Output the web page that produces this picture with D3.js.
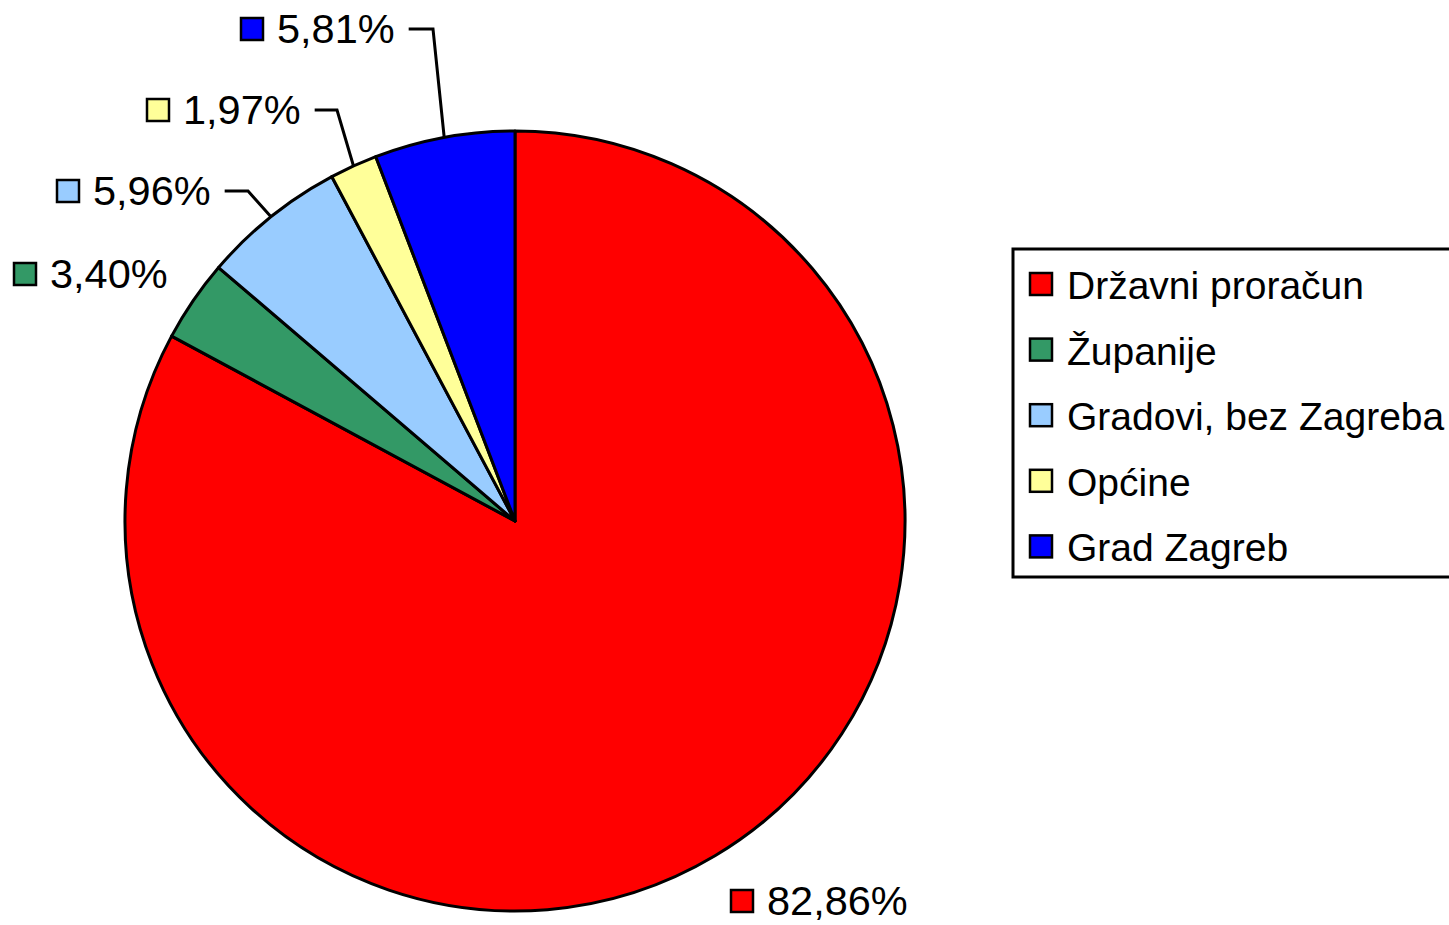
<!doctype html>
<html>
<head>
<meta charset="UTF-8">
<title>Pie</title>
<script src="https://cdn.jsdelivr.net/npm/d3@7"></script>
<style>
  body { margin: 0; background: #fff; }
  text { font-family: "Liberation Sans", Arial, sans-serif; fill: #000; }
</style>
</head>
<body>
<svg id="chart" width="1449" height="925"></svg>
<script>
// data
var categories = ["Državni proračun", "Županije", "Gradovi, bez Zagreba", "Općine", "Grad Zagreb"];
var shares = [82.86, 3.40, 5.96, 1.97, 5.81];
var colors = ["#ff0000", "#339966", "#99ccff", "#ffff99", "#0000ff"];

// label placement (text start x, baseline y, elbow x) - hand placed like the original
var labelPos = [
  {x: 767, y: 915, elbow: null},
  {x: 50,  y: 288, elbow: null},
  {x: 93,  y: 205, elbow: 248},
  {x: 183, y: 124, elbow: 337},
  {x: 277, y: 43,  elbow: 433}
];

var svg = d3.select("#chart"),
    cx = 515, cy = 521, r = 390;

var pie = d3.pie().sort(null).value(function(d) { return d; });
var arc = d3.arc().innerRadius(0).outerRadius(r);
var arcs = pie(shares);

var g = svg.append("g").attr("transform", "translate(" + cx + "," + cy + ")");

g.selectAll("path.slice")
  .data(arcs)
  .enter().append("path")
  .attr("class", "slice")
  .attr("d", arc)
  .attr("fill", function(d, i) { return colors[i]; })
  .attr("stroke", "#000")
  .attr("stroke-width", 3)
  .attr("stroke-linejoin", "round");

var fmt = function(v) { return v.toFixed(2).replace(".", ",") + "%"; };

// data labels
var lab = svg.append("g");
arcs.forEach(function(a, i) {
  var p = labelPos[i];
  var t = lab.append("text")
    .attr("x", p.x).attr("y", p.y)
    .attr("font-size", 41.5)
    .text(fmt(shares[i]));
  var w = t.node().getComputedTextLength();
  lab.append("rect")
    .attr("x", p.x - 36).attr("y", p.y - 25)
    .attr("width", 22).attr("height", 22)
    .attr("fill", colors[i])
    .attr("stroke", "#000").attr("stroke-width", 2.5);
  if (p.elbow != null) {
    var mid = (a.startAngle + a.endAngle) / 2;
    var ex = cx + r * Math.sin(mid), ey = cy - r * Math.cos(mid);
    var ly = p.y - 14;
    lab.append("path")
      .attr("d", "M" + (p.x + w + 14) + "," + ly + "L" + p.elbow + "," + ly + "L" + ex + "," + ey)
      .attr("fill", "none")
      .attr("stroke", "#000")
      .attr("stroke-width", 3);
  }
});

// legend
var legend = svg.append("g");
legend.append("rect")
  .attr("x", 1013).attr("y", 249)
  .attr("width", 460).attr("height", 328)
  .attr("fill", "#fff")
  .attr("stroke", "#000").attr("stroke-width", 3);

var item = legend.selectAll("g.item")
  .data(categories)
  .enter().append("g")
  .attr("class", "item")
  .attr("transform", function(d, i) { return "translate(1030," + (285 + i * 65.6) + ")"; });

item.append("rect")
  .attr("x", 0).attr("y", -12)
  .attr("width", 22).attr("height", 22)
  .attr("fill", function(d, i) { return colors[i]; })
  .attr("stroke", "#000").attr("stroke-width", 2.5);

item.append("text")
  .attr("x", 37).attr("y", 14)
  .attr("font-size", 39)
  .text(function(d) { return d; });
</script>
</body>
</html>
